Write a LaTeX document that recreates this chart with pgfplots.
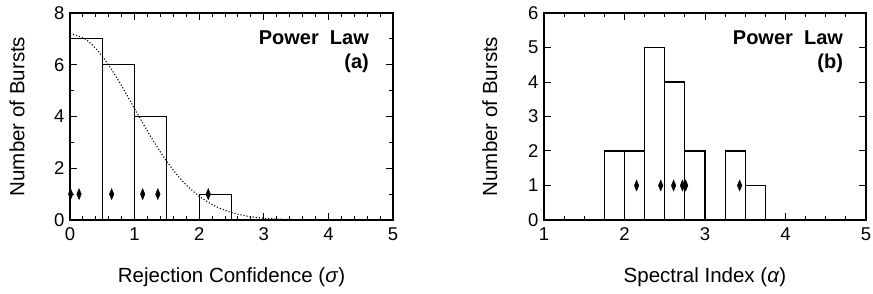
\documentclass[border=0pt]{standalone}
\usepackage{fontspec}
\setmainfont{Liberation Sans}
\usepackage{pgfplots}
\pgfplotsset{compat=1.18}
\begin{document}
\begin{tikzpicture}
\useasboundingbox (0,0) rectangle (873pt,294pt);
\pgfplotsset{
  every axis/.append style={
    scale only axis,
    /pgf/number format/assume math mode=true,
    tick align=inside,
    major tick length=7pt,
    minor tick length=4pt,
    every tick/.style={black, line width=1pt},
    axis line style={line width=1.4pt},
    tick label style={font=\fontsize{18.5}{20}\selectfont},
    label style={font=\fontsize{20.5}{24}\selectfont},
    xticklabel style={yshift=-4pt},
    yticklabel style={xshift=-2pt},
  },
}
% ---------------- (a)
\begin{axis}[
  at={(70pt,74pt)}, anchor=south west,
  width=323pt, height=207pt,
  xmin=0, xmax=5, ymin=0, ymax=8,
  xtick={0,1,2,3,4,5}, minor x tick num=4,
  ytick={0,2,4,6,8}, minor y tick num=1,
  xlabel={Rejection Confidence (\textit{σ})},
  ylabel={Number of Bursts},
  xlabel style={at={(axis description cs:0.5,-0.275)}, anchor=center},
  ylabel style={at={(axis description cs:-0.164,0.5)}, anchor=center},
]
\addplot[ybar interval, draw=black, line width=1.1pt, fill=none] coordinates {
  (0,7) (0.5,6) (1,4) (1.5,0) (2,1) (2.5,1)
};
\addplot[black, dotted, line width=1.1pt, smooth] coordinates {
  (0,7.2) (0.25,6.97) (0.5,6.33) (0.75,5.39) (1.0,4.30) (1.25,3.22)
  (1.5,2.26) (1.75,1.48) (2.0,0.92) (2.25,0.53) (2.5,0.29) (2.75,0.146)
  (3.0,0.07) (3.25,0.031) (3.5,0.013) (3.75,0.005) (4.0,0.002)
};
\addplot[only marks, mark=diamond*, mark size=5.5pt,
  mark options={xscale=0.55, fill=black, draw=black}] coordinates {
  (0.01,1) (0.14,1) (0.645,1) (1.125,1) (1.36,1) (2.14,1)
};
\node[anchor=north east, align=right, inner sep=0pt,
  font=\fontsize{20}{24}\selectfont\bfseries]
  at (axis description cs:0.926,0.915) {Power\ \ Law\\(a)};
\end{axis}
% ---------------- (b)
\begin{axis}[
  at={(544pt,74pt)}, anchor=south west,
  width=322pt, height=207pt,
  xmin=1, xmax=5, ymin=0, ymax=6,
  xtick={1,2,3,4,5}, minor x tick num=3,
  ytick={0,1,2,3,4,5,6},
  xlabel={Spectral Index (\textit{α})},
  ylabel={Number of Bursts},
  xlabel style={at={(axis description cs:0.5,-0.275)}, anchor=center},
  ylabel style={at={(axis description cs:-0.168,0.5)}, anchor=center},
]
\addplot[ybar interval, draw=black, line width=1.1pt, fill=none] coordinates {
  (1.75,2) (2,2) (2.25,5) (2.5,4) (2.75,2) (3,0) (3.25,2) (3.5,1) (3.75,1)
};
\addplot[only marks, mark=diamond*, mark size=5.5pt,
  mark options={xscale=0.55, fill=black, draw=black}] coordinates {
  (2.15,1) (2.45,1) (2.61,1) (2.72,1) (2.76,1) (3.43,1)
};
\node[anchor=north east, align=right, inner sep=0pt,
  font=\fontsize{20}{24}\selectfont\bfseries]
  at (axis description cs:0.929,0.915) {Power\ \ Law\\(b)};
\end{axis}
\end{tikzpicture}
\end{document}
